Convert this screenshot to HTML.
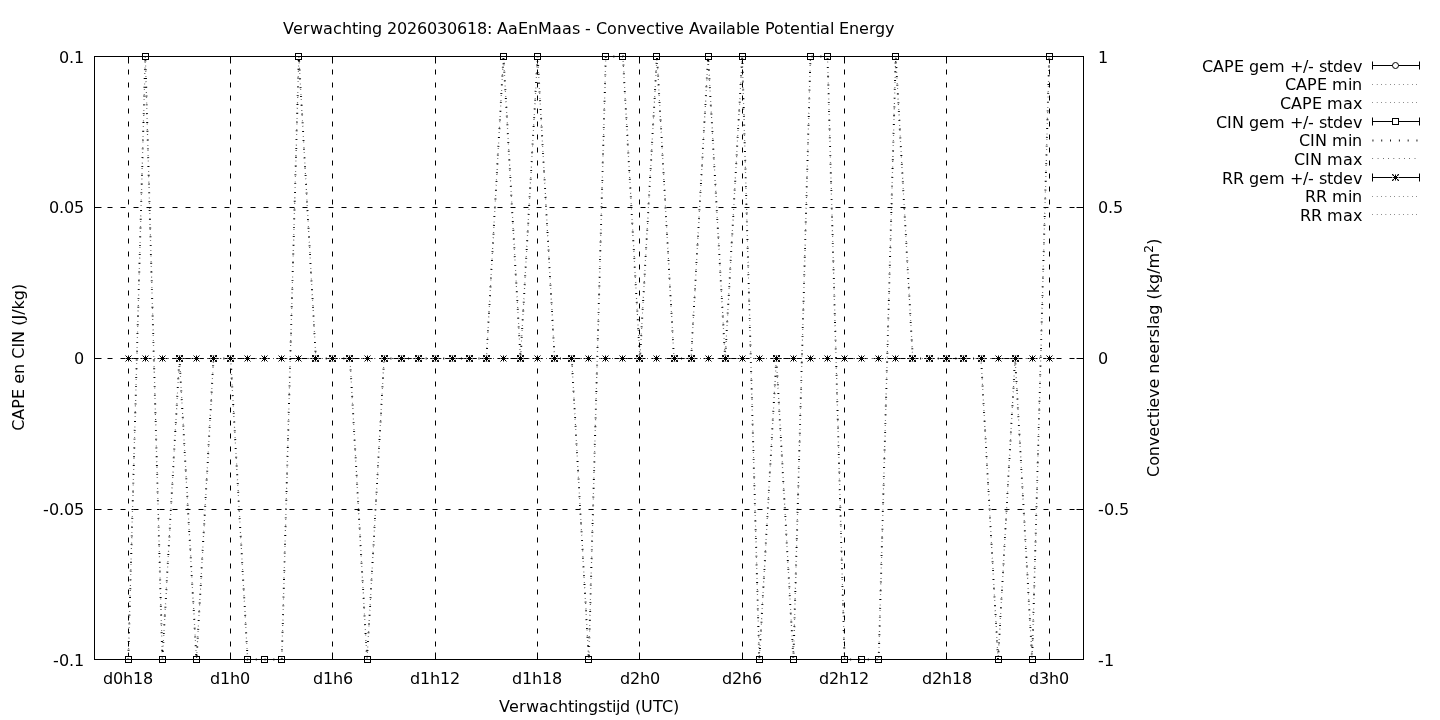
<!DOCTYPE html>
<html lang="nl"><head><meta charset="utf-8"><title>Verwachting 2026030618: AaEnMaas - Convective Available Potential Energy</title>
<style>html,body{margin:0;padding:0;background:#fff;overflow:hidden}svg{display:block;will-change:transform;-webkit-font-smoothing:antialiased}text{font-family:'DejaVu Sans','Liberation Sans',sans-serif;font-size:16px;fill:#000}</style></head><body>
<svg width="1440" height="720" viewBox="0 0 1440 720">
<rect x="0" y="0" width="1440" height="720" fill="#fff"/>
<g fill="none" stroke="#000" stroke-width="1" stroke-dasharray="5 8">
<path d="M128.5 659.5V56.5"/>
<path d="M230.5 659.5V56.5"/>
<path d="M332.5 659.5V56.5"/>
<path d="M435.5 659.5V56.5"/>
<path d="M537.5 659.5V56.5"/>
<path d="M639.5 659.5V56.5"/>
<path d="M742.5 659.5V56.5"/>
<path d="M844.5 659.5V56.5"/>
<path d="M946.5 659.5V56.5"/>
<path d="M1049.5 659.5V56.5"/>
<path d="M94.5 207.5H1083.5"/>
<path d="M94.5 358.5H1083.5"/>
<path d="M94.5 509.5H1083.5"/>
</g>
<path d="M128.5 659.5v-7M128.5 56.5v7M230.5 659.5v-7M230.5 56.5v7M332.5 659.5v-7M332.5 56.5v7M435.5 659.5v-7M435.5 56.5v7M537.5 659.5v-7M537.5 56.5v7M639.5 659.5v-7M639.5 56.5v7M742.5 659.5v-7M742.5 56.5v7M844.5 659.5v-7M844.5 56.5v7M946.5 659.5v-7M946.5 56.5v7M1049.5 659.5v-7M1049.5 56.5v7M94.5 207.5h7M1083.5 207.5h-7M94.5 358.5h7M1083.5 358.5h-7M94.5 509.5h7M1083.5 509.5h-7" fill="none" stroke="#000" stroke-width="1"/>
<path d="M128.28 358.50H1049.23" fill="none" stroke="#000" stroke-width="1.00" stroke-dasharray="0.450 3.950"/>
<g fill="none" stroke="#000" stroke-width="1">
<path d="M123.50 659.5h10.0"/><circle cx="128.50" cy="659.5" r="3.5" fill="#fff" stroke="none"/><path d="M125 656h7v7h-7zM126 657h5v5h-5z" fill="#000" fill-rule="evenodd" stroke="none"/>
<path d="M140.50 56.5h10.0"/><circle cx="145.50" cy="56.5" r="3.5" fill="#fff" stroke="none"/><path d="M142 53h7v7h-7zM143 54h5v5h-5z" fill="#000" fill-rule="evenodd" stroke="none"/>
<path d="M157.50 659.5h10.0"/><circle cx="162.50" cy="659.5" r="3.5" fill="#fff" stroke="none"/><path d="M159 656h7v7h-7zM160 657h5v5h-5z" fill="#000" fill-rule="evenodd" stroke="none"/>
<path d="M174.50 358.5h10.0"/><circle cx="179.50" cy="358.5" r="3.5" fill="#fff" stroke="none"/><path d="M176 355h7v7h-7zM177 356h5v5h-5z" fill="#000" fill-rule="evenodd" stroke="none"/>
<path d="M191.50 659.5h10.0"/><circle cx="196.50" cy="659.5" r="3.5" fill="#fff" stroke="none"/><path d="M193 656h7v7h-7zM194 657h5v5h-5z" fill="#000" fill-rule="evenodd" stroke="none"/>
<path d="M208.50 358.5h10.0"/><circle cx="213.50" cy="358.5" r="3.5" fill="#fff" stroke="none"/><path d="M210 355h7v7h-7zM211 356h5v5h-5z" fill="#000" fill-rule="evenodd" stroke="none"/>
<path d="M225.50 358.5h10.0"/><circle cx="230.50" cy="358.5" r="3.5" fill="#fff" stroke="none"/><path d="M227 355h7v7h-7zM228 356h5v5h-5z" fill="#000" fill-rule="evenodd" stroke="none"/>
<path d="M242.50 659.5h10.0"/><circle cx="247.50" cy="659.5" r="3.5" fill="#fff" stroke="none"/><path d="M244 656h7v7h-7zM245 657h5v5h-5z" fill="#000" fill-rule="evenodd" stroke="none"/>
<path d="M259.50 659.5h10.0"/><circle cx="264.50" cy="659.5" r="3.5" fill="#fff" stroke="none"/><path d="M261 656h7v7h-7zM262 657h5v5h-5z" fill="#000" fill-rule="evenodd" stroke="none"/>
<path d="M276.50 659.5h10.0"/><circle cx="281.50" cy="659.5" r="3.5" fill="#fff" stroke="none"/><path d="M278 656h7v7h-7zM279 657h5v5h-5z" fill="#000" fill-rule="evenodd" stroke="none"/>
<path d="M293.50 56.5h10.0"/><circle cx="298.50" cy="56.5" r="3.5" fill="#fff" stroke="none"/><path d="M295 53h7v7h-7zM296 54h5v5h-5z" fill="#000" fill-rule="evenodd" stroke="none"/>
<path d="M310.50 358.5h10.0"/><circle cx="315.50" cy="358.5" r="3.5" fill="#fff" stroke="none"/><path d="M312 355h7v7h-7zM313 356h5v5h-5z" fill="#000" fill-rule="evenodd" stroke="none"/>
<path d="M327.50 358.5h10.0"/><circle cx="332.50" cy="358.5" r="3.5" fill="#fff" stroke="none"/><path d="M329 355h7v7h-7zM330 356h5v5h-5z" fill="#000" fill-rule="evenodd" stroke="none"/>
<path d="M344.50 358.5h10.0"/><circle cx="349.50" cy="358.5" r="3.5" fill="#fff" stroke="none"/><path d="M346 355h7v7h-7zM347 356h5v5h-5z" fill="#000" fill-rule="evenodd" stroke="none"/>
<path d="M362.50 659.5h10.0"/><circle cx="367.50" cy="659.5" r="3.5" fill="#fff" stroke="none"/><path d="M364 656h7v7h-7zM365 657h5v5h-5z" fill="#000" fill-rule="evenodd" stroke="none"/>
<path d="M379.50 358.5h10.0"/><circle cx="384.50" cy="358.5" r="3.5" fill="#fff" stroke="none"/><path d="M381 355h7v7h-7zM382 356h5v5h-5z" fill="#000" fill-rule="evenodd" stroke="none"/>
<path d="M396.50 358.5h10.0"/><circle cx="401.50" cy="358.5" r="3.5" fill="#fff" stroke="none"/><path d="M398 355h7v7h-7zM399 356h5v5h-5z" fill="#000" fill-rule="evenodd" stroke="none"/>
<path d="M413.50 358.5h10.0"/><circle cx="418.50" cy="358.5" r="3.5" fill="#fff" stroke="none"/><path d="M415 355h7v7h-7zM416 356h5v5h-5z" fill="#000" fill-rule="evenodd" stroke="none"/>
<path d="M430.50 358.5h10.0"/><circle cx="435.50" cy="358.5" r="3.5" fill="#fff" stroke="none"/><path d="M432 355h7v7h-7zM433 356h5v5h-5z" fill="#000" fill-rule="evenodd" stroke="none"/>
<path d="M447.50 358.5h10.0"/><circle cx="452.50" cy="358.5" r="3.5" fill="#fff" stroke="none"/><path d="M449 355h7v7h-7zM450 356h5v5h-5z" fill="#000" fill-rule="evenodd" stroke="none"/>
<path d="M464.50 358.5h10.0"/><circle cx="469.50" cy="358.5" r="3.5" fill="#fff" stroke="none"/><path d="M466 355h7v7h-7zM467 356h5v5h-5z" fill="#000" fill-rule="evenodd" stroke="none"/>
<path d="M481.50 358.5h10.0"/><circle cx="486.50" cy="358.5" r="3.5" fill="#fff" stroke="none"/><path d="M483 355h7v7h-7zM484 356h5v5h-5z" fill="#000" fill-rule="evenodd" stroke="none"/>
<path d="M498.50 56.5h10.0"/><circle cx="503.50" cy="56.5" r="3.5" fill="#fff" stroke="none"/><path d="M500 53h7v7h-7zM501 54h5v5h-5z" fill="#000" fill-rule="evenodd" stroke="none"/>
<path d="M515.50 358.5h10.0"/><circle cx="520.50" cy="358.5" r="3.5" fill="#fff" stroke="none"/><path d="M517 355h7v7h-7zM518 356h5v5h-5z" fill="#000" fill-rule="evenodd" stroke="none"/>
<path d="M532.50 56.5h10.0"/><circle cx="537.50" cy="56.5" r="3.5" fill="#fff" stroke="none"/><path d="M534 53h7v7h-7zM535 54h5v5h-5z" fill="#000" fill-rule="evenodd" stroke="none"/>
<path d="M549.50 358.5h10.0"/><circle cx="554.50" cy="358.5" r="3.5" fill="#fff" stroke="none"/><path d="M551 355h7v7h-7zM552 356h5v5h-5z" fill="#000" fill-rule="evenodd" stroke="none"/>
<path d="M566.50 358.5h10.0"/><circle cx="571.50" cy="358.5" r="3.5" fill="#fff" stroke="none"/><path d="M568 355h7v7h-7zM569 356h5v5h-5z" fill="#000" fill-rule="evenodd" stroke="none"/>
<path d="M583.50 659.5h10.0"/><circle cx="588.50" cy="659.5" r="3.5" fill="#fff" stroke="none"/><path d="M585 656h7v7h-7zM586 657h5v5h-5z" fill="#000" fill-rule="evenodd" stroke="none"/>
<path d="M600.50 56.5h10.0"/><circle cx="605.50" cy="56.5" r="3.5" fill="#fff" stroke="none"/><path d="M602 53h7v7h-7zM603 54h5v5h-5z" fill="#000" fill-rule="evenodd" stroke="none"/>
<path d="M617.50 56.5h10.0"/><circle cx="622.50" cy="56.5" r="3.5" fill="#fff" stroke="none"/><path d="M619 53h7v7h-7zM620 54h5v5h-5z" fill="#000" fill-rule="evenodd" stroke="none"/>
<path d="M634.50 358.5h10.0"/><circle cx="639.50" cy="358.5" r="3.5" fill="#fff" stroke="none"/><path d="M636 355h7v7h-7zM637 356h5v5h-5z" fill="#000" fill-rule="evenodd" stroke="none"/>
<path d="M651.50 56.5h10.0"/><circle cx="656.50" cy="56.5" r="3.5" fill="#fff" stroke="none"/><path d="M653 53h7v7h-7zM654 54h5v5h-5z" fill="#000" fill-rule="evenodd" stroke="none"/>
<path d="M669.50 358.5h10.0"/><circle cx="674.50" cy="358.5" r="3.5" fill="#fff" stroke="none"/><path d="M671 355h7v7h-7zM672 356h5v5h-5z" fill="#000" fill-rule="evenodd" stroke="none"/>
<path d="M686.50 358.5h10.0"/><circle cx="691.50" cy="358.5" r="3.5" fill="#fff" stroke="none"/><path d="M688 355h7v7h-7zM689 356h5v5h-5z" fill="#000" fill-rule="evenodd" stroke="none"/>
<path d="M703.50 56.5h10.0"/><circle cx="708.50" cy="56.5" r="3.5" fill="#fff" stroke="none"/><path d="M705 53h7v7h-7zM706 54h5v5h-5z" fill="#000" fill-rule="evenodd" stroke="none"/>
<path d="M720.50 358.5h10.0"/><circle cx="725.50" cy="358.5" r="3.5" fill="#fff" stroke="none"/><path d="M722 355h7v7h-7zM723 356h5v5h-5z" fill="#000" fill-rule="evenodd" stroke="none"/>
<path d="M737.50 56.5h10.0"/><circle cx="742.50" cy="56.5" r="3.5" fill="#fff" stroke="none"/><path d="M739 53h7v7h-7zM740 54h5v5h-5z" fill="#000" fill-rule="evenodd" stroke="none"/>
<path d="M754.50 659.5h10.0"/><circle cx="759.50" cy="659.5" r="3.5" fill="#fff" stroke="none"/><path d="M756 656h7v7h-7zM757 657h5v5h-5z" fill="#000" fill-rule="evenodd" stroke="none"/>
<path d="M771.50 358.5h10.0"/><circle cx="776.50" cy="358.5" r="3.5" fill="#fff" stroke="none"/><path d="M773 355h7v7h-7zM774 356h5v5h-5z" fill="#000" fill-rule="evenodd" stroke="none"/>
<path d="M788.50 659.5h10.0"/><circle cx="793.50" cy="659.5" r="3.5" fill="#fff" stroke="none"/><path d="M790 656h7v7h-7zM791 657h5v5h-5z" fill="#000" fill-rule="evenodd" stroke="none"/>
<path d="M805.50 56.5h10.0"/><circle cx="810.50" cy="56.5" r="3.5" fill="#fff" stroke="none"/><path d="M807 53h7v7h-7zM808 54h5v5h-5z" fill="#000" fill-rule="evenodd" stroke="none"/>
<path d="M822.50 56.5h10.0"/><circle cx="827.50" cy="56.5" r="3.5" fill="#fff" stroke="none"/><path d="M824 53h7v7h-7zM825 54h5v5h-5z" fill="#000" fill-rule="evenodd" stroke="none"/>
<path d="M839.50 659.5h10.0"/><circle cx="844.50" cy="659.5" r="3.5" fill="#fff" stroke="none"/><path d="M841 656h7v7h-7zM842 657h5v5h-5z" fill="#000" fill-rule="evenodd" stroke="none"/>
<path d="M856.50 659.5h10.0"/><circle cx="861.50" cy="659.5" r="3.5" fill="#fff" stroke="none"/><path d="M858 656h7v7h-7zM859 657h5v5h-5z" fill="#000" fill-rule="evenodd" stroke="none"/>
<path d="M873.50 659.5h10.0"/><circle cx="878.50" cy="659.5" r="3.5" fill="#fff" stroke="none"/><path d="M875 656h7v7h-7zM876 657h5v5h-5z" fill="#000" fill-rule="evenodd" stroke="none"/>
<path d="M890.50 56.5h10.0"/><circle cx="895.50" cy="56.5" r="3.5" fill="#fff" stroke="none"/><path d="M892 53h7v7h-7zM893 54h5v5h-5z" fill="#000" fill-rule="evenodd" stroke="none"/>
<path d="M907.50 358.5h10.0"/><circle cx="912.50" cy="358.5" r="3.5" fill="#fff" stroke="none"/><path d="M909 355h7v7h-7zM910 356h5v5h-5z" fill="#000" fill-rule="evenodd" stroke="none"/>
<path d="M924.50 358.5h10.0"/><circle cx="929.50" cy="358.5" r="3.5" fill="#fff" stroke="none"/><path d="M926 355h7v7h-7zM927 356h5v5h-5z" fill="#000" fill-rule="evenodd" stroke="none"/>
<path d="M941.50 358.5h10.0"/><circle cx="946.50" cy="358.5" r="3.5" fill="#fff" stroke="none"/><path d="M943 355h7v7h-7zM944 356h5v5h-5z" fill="#000" fill-rule="evenodd" stroke="none"/>
<path d="M958.50 358.5h10.0"/><circle cx="963.50" cy="358.5" r="3.5" fill="#fff" stroke="none"/><path d="M960 355h7v7h-7zM961 356h5v5h-5z" fill="#000" fill-rule="evenodd" stroke="none"/>
<path d="M976.50 358.5h10.0"/><circle cx="981.50" cy="358.5" r="3.5" fill="#fff" stroke="none"/><path d="M978 355h7v7h-7zM979 356h5v5h-5z" fill="#000" fill-rule="evenodd" stroke="none"/>
<path d="M993.50 659.5h10.0"/><circle cx="998.50" cy="659.5" r="3.5" fill="#fff" stroke="none"/><path d="M995 656h7v7h-7zM996 657h5v5h-5z" fill="#000" fill-rule="evenodd" stroke="none"/>
<path d="M1010.50 358.5h10.0"/><circle cx="1015.50" cy="358.5" r="3.5" fill="#fff" stroke="none"/><path d="M1012 355h7v7h-7zM1013 356h5v5h-5z" fill="#000" fill-rule="evenodd" stroke="none"/>
<path d="M1027.50 659.5h10.0"/><circle cx="1032.50" cy="659.5" r="3.5" fill="#fff" stroke="none"/><path d="M1029 656h7v7h-7zM1030 657h5v5h-5z" fill="#000" fill-rule="evenodd" stroke="none"/>
<path d="M1044.50 56.5h10.0"/><circle cx="1049.50" cy="56.5" r="3.5" fill="#fff" stroke="none"/><path d="M1046 53h7v7h-7zM1047 54h5v5h-5z" fill="#000" fill-rule="evenodd" stroke="none"/>
</g>
<g fill="none" stroke="#000">
<polyline points="128.28,659.50 145.33,56.50 162.39,659.50 179.44,358.50 196.50,659.50 213.55,358.50 230.61,358.50 247.66,659.50 264.72,659.50 281.77,659.50 298.82,56.50 315.88,358.50 332.93,358.50 349.99,358.50 367.04,659.50 384.10,358.50 401.15,358.50 418.21,358.50 435.26,358.50 452.32,358.50 469.37,358.50 486.43,358.50 503.48,56.50 520.53,358.50 537.59,56.50 554.64,358.50 571.70,358.50 588.75,659.50 605.81,56.50 622.86,56.50 639.92,358.50 656.97,56.50 674.03,358.50 691.08,358.50 708.13,56.50 725.19,358.50 742.24,56.50 759.30,659.50 776.35,358.50 793.41,659.50 810.46,56.50 827.52,56.50 844.57,659.50 861.63,659.50 878.68,659.50 895.74,56.50 912.79,358.50 929.84,358.50 946.90,358.50 963.95,358.50 981.01,358.50 998.06,659.50 1015.12,358.50 1032.17,659.50 1049.23,56.50" stroke-width="2.00" stroke-dasharray="0.900 7.900"/>
<polyline points="128.28,659.50 145.33,56.50 162.39,659.50 179.44,358.50 196.50,659.50 213.55,358.50 230.61,358.50 247.66,659.50 264.72,659.50 281.77,659.50 298.82,56.50 315.88,358.50 332.93,358.50 349.99,358.50 367.04,659.50 384.10,358.50 401.15,358.50 418.21,358.50 435.26,358.50 452.32,358.50 469.37,358.50 486.43,358.50 503.48,56.50 520.53,358.50 537.59,56.50 554.64,358.50 571.70,358.50 588.75,659.50 605.81,56.50 622.86,56.50 639.92,358.50 656.97,56.50 674.03,358.50 691.08,358.50 708.13,56.50 725.19,358.50 742.24,56.50 759.30,659.50 776.35,358.50 793.41,659.50 810.46,56.50 827.52,56.50 844.57,659.50 861.63,659.50 878.68,659.50 895.74,56.50 912.79,358.50 929.84,358.50 946.90,358.50 963.95,358.50 981.01,358.50 998.06,659.50 1015.12,358.50 1032.17,659.50 1049.23,56.50" stroke-width="1.20" stroke-dasharray="0.540 4.740"/>
</g>
<g fill="none" stroke="#000" stroke-width="1">
<path d="M123.50 358.5h10.0"/><circle cx="128.50" cy="358.5" r="3.50" fill="#fff" stroke="none"/>
<path d="M125.50 358.50h6M128.50 355.50v6M125.50 355.50l6 6M125.50 361.50l6 -6"/>
<path d="M140.50 358.5h10.0"/><circle cx="145.50" cy="358.5" r="3.50" fill="#fff" stroke="none"/>
<path d="M142.50 358.50h6M145.50 355.50v6M142.50 355.50l6 6M142.50 361.50l6 -6"/>
<path d="M157.50 358.5h10.0"/><circle cx="162.50" cy="358.5" r="3.50" fill="#fff" stroke="none"/>
<path d="M159.50 358.50h6M162.50 355.50v6M159.50 355.50l6 6M159.50 361.50l6 -6"/>
<path d="M174.50 358.5h10.0"/><circle cx="179.50" cy="358.5" r="3.50" fill="#fff" stroke="none"/>
<path d="M176 355H177.63V356H177V356.63H176ZM176 362H177.63V361H177V360.37H176ZM183 355H181.37V356H182V356.63H183ZM183 362H181.37V361H182V360.37H183Z" fill="#000" stroke="none"/>
<path d="M176.50 358.50h6M179.50 355.50v6M176.50 355.50l6 6M176.50 361.50l6 -6"/>
<path d="M191.50 358.5h10.0"/><circle cx="196.50" cy="358.5" r="3.50" fill="#fff" stroke="none"/>
<path d="M193.50 358.50h6M196.50 355.50v6M193.50 355.50l6 6M193.50 361.50l6 -6"/>
<path d="M208.50 358.5h10.0"/><circle cx="213.50" cy="358.5" r="3.50" fill="#fff" stroke="none"/>
<path d="M210 355H211.63V356H211V356.63H210ZM210 362H211.63V361H211V360.37H210ZM217 355H215.37V356H216V356.63H217ZM217 362H215.37V361H216V360.37H217Z" fill="#000" stroke="none"/>
<path d="M210.50 358.50h6M213.50 355.50v6M210.50 355.50l6 6M210.50 361.50l6 -6"/>
<path d="M225.50 358.5h10.0"/><circle cx="230.50" cy="358.5" r="3.50" fill="#fff" stroke="none"/>
<path d="M227 355H228.63V356H228V356.63H227ZM227 362H228.63V361H228V360.37H227ZM234 355H232.37V356H233V356.63H234ZM234 362H232.37V361H233V360.37H234Z" fill="#000" stroke="none"/>
<path d="M227.50 358.50h6M230.50 355.50v6M227.50 355.50l6 6M227.50 361.50l6 -6"/>
<path d="M242.50 358.5h10.0"/><circle cx="247.50" cy="358.5" r="3.50" fill="#fff" stroke="none"/>
<path d="M244.50 358.50h6M247.50 355.50v6M244.50 355.50l6 6M244.50 361.50l6 -6"/>
<path d="M259.50 358.5h10.0"/><circle cx="264.50" cy="358.5" r="3.50" fill="#fff" stroke="none"/>
<path d="M261.50 358.50h6M264.50 355.50v6M261.50 355.50l6 6M261.50 361.50l6 -6"/>
<path d="M276.50 358.5h10.0"/><circle cx="281.50" cy="358.5" r="3.50" fill="#fff" stroke="none"/>
<path d="M278.50 358.50h6M281.50 355.50v6M278.50 355.50l6 6M278.50 361.50l6 -6"/>
<path d="M293.50 358.5h10.0"/><circle cx="298.50" cy="358.5" r="3.50" fill="#fff" stroke="none"/>
<path d="M295.50 358.50h6M298.50 355.50v6M295.50 355.50l6 6M295.50 361.50l6 -6"/>
<path d="M310.50 358.5h10.0"/><circle cx="315.50" cy="358.5" r="3.50" fill="#fff" stroke="none"/>
<path d="M312 355H313.63V356H313V356.63H312ZM312 362H313.63V361H313V360.37H312ZM319 355H317.37V356H318V356.63H319ZM319 362H317.37V361H318V360.37H319Z" fill="#000" stroke="none"/>
<path d="M312.50 358.50h6M315.50 355.50v6M312.50 355.50l6 6M312.50 361.50l6 -6"/>
<path d="M327.50 358.5h10.0"/><circle cx="332.50" cy="358.5" r="3.50" fill="#fff" stroke="none"/>
<path d="M329 355H330.63V356H330V356.63H329ZM329 362H330.63V361H330V360.37H329ZM336 355H334.37V356H335V356.63H336ZM336 362H334.37V361H335V360.37H336Z" fill="#000" stroke="none"/>
<path d="M329.50 358.50h6M332.50 355.50v6M329.50 355.50l6 6M329.50 361.50l6 -6"/>
<path d="M344.50 358.5h10.0"/><circle cx="349.50" cy="358.5" r="3.50" fill="#fff" stroke="none"/>
<path d="M346 355H347.63V356H347V356.63H346ZM346 362H347.63V361H347V360.37H346ZM353 355H351.37V356H352V356.63H353ZM353 362H351.37V361H352V360.37H353Z" fill="#000" stroke="none"/>
<path d="M346.50 358.50h6M349.50 355.50v6M346.50 355.50l6 6M346.50 361.50l6 -6"/>
<path d="M362.50 358.5h10.0"/><circle cx="367.50" cy="358.5" r="3.50" fill="#fff" stroke="none"/>
<path d="M364.50 358.50h6M367.50 355.50v6M364.50 355.50l6 6M364.50 361.50l6 -6"/>
<path d="M379.50 358.5h10.0"/><circle cx="384.50" cy="358.5" r="3.50" fill="#fff" stroke="none"/>
<path d="M381 355H382.63V356H382V356.63H381ZM381 362H382.63V361H382V360.37H381ZM388 355H386.37V356H387V356.63H388ZM388 362H386.37V361H387V360.37H388Z" fill="#000" stroke="none"/>
<path d="M381.50 358.50h6M384.50 355.50v6M381.50 355.50l6 6M381.50 361.50l6 -6"/>
<path d="M396.50 358.5h10.0"/><circle cx="401.50" cy="358.5" r="3.50" fill="#fff" stroke="none"/>
<path d="M398 355H399.63V356H399V356.63H398ZM398 362H399.63V361H399V360.37H398ZM405 355H403.37V356H404V356.63H405ZM405 362H403.37V361H404V360.37H405Z" fill="#000" stroke="none"/>
<path d="M398.50 358.50h6M401.50 355.50v6M398.50 355.50l6 6M398.50 361.50l6 -6"/>
<path d="M413.50 358.5h10.0"/><circle cx="418.50" cy="358.5" r="3.50" fill="#fff" stroke="none"/>
<path d="M415 355H416.63V356H416V356.63H415ZM415 362H416.63V361H416V360.37H415ZM422 355H420.37V356H421V356.63H422ZM422 362H420.37V361H421V360.37H422Z" fill="#000" stroke="none"/>
<path d="M415.50 358.50h6M418.50 355.50v6M415.50 355.50l6 6M415.50 361.50l6 -6"/>
<path d="M430.50 358.5h10.0"/><circle cx="435.50" cy="358.5" r="3.50" fill="#fff" stroke="none"/>
<path d="M432 355H433.63V356H433V356.63H432ZM432 362H433.63V361H433V360.37H432ZM439 355H437.37V356H438V356.63H439ZM439 362H437.37V361H438V360.37H439Z" fill="#000" stroke="none"/>
<path d="M432.50 358.50h6M435.50 355.50v6M432.50 355.50l6 6M432.50 361.50l6 -6"/>
<path d="M447.50 358.5h10.0"/><circle cx="452.50" cy="358.5" r="3.50" fill="#fff" stroke="none"/>
<path d="M449 355H450.63V356H450V356.63H449ZM449 362H450.63V361H450V360.37H449ZM456 355H454.37V356H455V356.63H456ZM456 362H454.37V361H455V360.37H456Z" fill="#000" stroke="none"/>
<path d="M449.50 358.50h6M452.50 355.50v6M449.50 355.50l6 6M449.50 361.50l6 -6"/>
<path d="M464.50 358.5h10.0"/><circle cx="469.50" cy="358.5" r="3.50" fill="#fff" stroke="none"/>
<path d="M466 355H467.63V356H467V356.63H466ZM466 362H467.63V361H467V360.37H466ZM473 355H471.37V356H472V356.63H473ZM473 362H471.37V361H472V360.37H473Z" fill="#000" stroke="none"/>
<path d="M466.50 358.50h6M469.50 355.50v6M466.50 355.50l6 6M466.50 361.50l6 -6"/>
<path d="M481.50 358.5h10.0"/><circle cx="486.50" cy="358.5" r="3.50" fill="#fff" stroke="none"/>
<path d="M483 355H484.63V356H484V356.63H483ZM483 362H484.63V361H484V360.37H483ZM490 355H488.37V356H489V356.63H490ZM490 362H488.37V361H489V360.37H490Z" fill="#000" stroke="none"/>
<path d="M483.50 358.50h6M486.50 355.50v6M483.50 355.50l6 6M483.50 361.50l6 -6"/>
<path d="M498.50 358.5h10.0"/><circle cx="503.50" cy="358.5" r="3.50" fill="#fff" stroke="none"/>
<path d="M500.50 358.50h6M503.50 355.50v6M500.50 355.50l6 6M500.50 361.50l6 -6"/>
<path d="M515.50 358.5h10.0"/><circle cx="520.50" cy="358.5" r="3.50" fill="#fff" stroke="none"/>
<path d="M517 355H518.63V356H518V356.63H517ZM517 362H518.63V361H518V360.37H517ZM524 355H522.37V356H523V356.63H524ZM524 362H522.37V361H523V360.37H524Z" fill="#000" stroke="none"/>
<path d="M517.50 358.50h6M520.50 355.50v6M517.50 355.50l6 6M517.50 361.50l6 -6"/>
<path d="M532.50 358.5h10.0"/><circle cx="537.50" cy="358.5" r="3.50" fill="#fff" stroke="none"/>
<path d="M534.50 358.50h6M537.50 355.50v6M534.50 355.50l6 6M534.50 361.50l6 -6"/>
<path d="M549.50 358.5h10.0"/><circle cx="554.50" cy="358.5" r="3.50" fill="#fff" stroke="none"/>
<path d="M551 355H552.63V356H552V356.63H551ZM551 362H552.63V361H552V360.37H551ZM558 355H556.37V356H557V356.63H558ZM558 362H556.37V361H557V360.37H558Z" fill="#000" stroke="none"/>
<path d="M551.50 358.50h6M554.50 355.50v6M551.50 355.50l6 6M551.50 361.50l6 -6"/>
<path d="M566.50 358.5h10.0"/><circle cx="571.50" cy="358.5" r="3.50" fill="#fff" stroke="none"/>
<path d="M568 355H569.63V356H569V356.63H568ZM568 362H569.63V361H569V360.37H568ZM575 355H573.37V356H574V356.63H575ZM575 362H573.37V361H574V360.37H575Z" fill="#000" stroke="none"/>
<path d="M568.50 358.50h6M571.50 355.50v6M568.50 355.50l6 6M568.50 361.50l6 -6"/>
<path d="M583.50 358.5h10.0"/><circle cx="588.50" cy="358.5" r="3.50" fill="#fff" stroke="none"/>
<path d="M585.50 358.50h6M588.50 355.50v6M585.50 355.50l6 6M585.50 361.50l6 -6"/>
<path d="M600.50 358.5h10.0"/><circle cx="605.50" cy="358.5" r="3.50" fill="#fff" stroke="none"/>
<path d="M602.50 358.50h6M605.50 355.50v6M602.50 355.50l6 6M602.50 361.50l6 -6"/>
<path d="M617.50 358.5h10.0"/><circle cx="622.50" cy="358.5" r="3.50" fill="#fff" stroke="none"/>
<path d="M619.50 358.50h6M622.50 355.50v6M619.50 355.50l6 6M619.50 361.50l6 -6"/>
<path d="M634.50 358.5h10.0"/><circle cx="639.50" cy="358.5" r="3.50" fill="#fff" stroke="none"/>
<path d="M636 355H637.63V356H637V356.63H636ZM636 362H637.63V361H637V360.37H636ZM643 355H641.37V356H642V356.63H643ZM643 362H641.37V361H642V360.37H643Z" fill="#000" stroke="none"/>
<path d="M636.50 358.50h6M639.50 355.50v6M636.50 355.50l6 6M636.50 361.50l6 -6"/>
<path d="M651.50 358.5h10.0"/><circle cx="656.50" cy="358.5" r="3.50" fill="#fff" stroke="none"/>
<path d="M653.50 358.50h6M656.50 355.50v6M653.50 355.50l6 6M653.50 361.50l6 -6"/>
<path d="M669.50 358.5h10.0"/><circle cx="674.50" cy="358.5" r="3.50" fill="#fff" stroke="none"/>
<path d="M671 355H672.63V356H672V356.63H671ZM671 362H672.63V361H672V360.37H671ZM678 355H676.37V356H677V356.63H678ZM678 362H676.37V361H677V360.37H678Z" fill="#000" stroke="none"/>
<path d="M671.50 358.50h6M674.50 355.50v6M671.50 355.50l6 6M671.50 361.50l6 -6"/>
<path d="M686.50 358.5h10.0"/><circle cx="691.50" cy="358.5" r="3.50" fill="#fff" stroke="none"/>
<path d="M688 355H689.63V356H689V356.63H688ZM688 362H689.63V361H689V360.37H688ZM695 355H693.37V356H694V356.63H695ZM695 362H693.37V361H694V360.37H695Z" fill="#000" stroke="none"/>
<path d="M688.50 358.50h6M691.50 355.50v6M688.50 355.50l6 6M688.50 361.50l6 -6"/>
<path d="M703.50 358.5h10.0"/><circle cx="708.50" cy="358.5" r="3.50" fill="#fff" stroke="none"/>
<path d="M705.50 358.50h6M708.50 355.50v6M705.50 355.50l6 6M705.50 361.50l6 -6"/>
<path d="M720.50 358.5h10.0"/><circle cx="725.50" cy="358.5" r="3.50" fill="#fff" stroke="none"/>
<path d="M722 355H723.63V356H723V356.63H722ZM722 362H723.63V361H723V360.37H722ZM729 355H727.37V356H728V356.63H729ZM729 362H727.37V361H728V360.37H729Z" fill="#000" stroke="none"/>
<path d="M722.50 358.50h6M725.50 355.50v6M722.50 355.50l6 6M722.50 361.50l6 -6"/>
<path d="M737.50 358.5h10.0"/><circle cx="742.50" cy="358.5" r="3.50" fill="#fff" stroke="none"/>
<path d="M739.50 358.50h6M742.50 355.50v6M739.50 355.50l6 6M739.50 361.50l6 -6"/>
<path d="M754.50 358.5h10.0"/><circle cx="759.50" cy="358.5" r="3.50" fill="#fff" stroke="none"/>
<path d="M756.50 358.50h6M759.50 355.50v6M756.50 355.50l6 6M756.50 361.50l6 -6"/>
<path d="M771.50 358.5h10.0"/><circle cx="776.50" cy="358.5" r="3.50" fill="#fff" stroke="none"/>
<path d="M773 355H774.63V356H774V356.63H773ZM773 362H774.63V361H774V360.37H773ZM780 355H778.37V356H779V356.63H780ZM780 362H778.37V361H779V360.37H780Z" fill="#000" stroke="none"/>
<path d="M773.50 358.50h6M776.50 355.50v6M773.50 355.50l6 6M773.50 361.50l6 -6"/>
<path d="M788.50 358.5h10.0"/><circle cx="793.50" cy="358.5" r="3.50" fill="#fff" stroke="none"/>
<path d="M790.50 358.50h6M793.50 355.50v6M790.50 355.50l6 6M790.50 361.50l6 -6"/>
<path d="M805.50 358.5h10.0"/><circle cx="810.50" cy="358.5" r="3.50" fill="#fff" stroke="none"/>
<path d="M807.50 358.50h6M810.50 355.50v6M807.50 355.50l6 6M807.50 361.50l6 -6"/>
<path d="M822.50 358.5h10.0"/><circle cx="827.50" cy="358.5" r="3.50" fill="#fff" stroke="none"/>
<path d="M824.50 358.50h6M827.50 355.50v6M824.50 355.50l6 6M824.50 361.50l6 -6"/>
<path d="M839.50 358.5h10.0"/><circle cx="844.50" cy="358.5" r="3.50" fill="#fff" stroke="none"/>
<path d="M841.50 358.50h6M844.50 355.50v6M841.50 355.50l6 6M841.50 361.50l6 -6"/>
<path d="M856.50 358.5h10.0"/><circle cx="861.50" cy="358.5" r="3.50" fill="#fff" stroke="none"/>
<path d="M858.50 358.50h6M861.50 355.50v6M858.50 355.50l6 6M858.50 361.50l6 -6"/>
<path d="M873.50 358.5h10.0"/><circle cx="878.50" cy="358.5" r="3.50" fill="#fff" stroke="none"/>
<path d="M875.50 358.50h6M878.50 355.50v6M875.50 355.50l6 6M875.50 361.50l6 -6"/>
<path d="M890.50 358.5h10.0"/><circle cx="895.50" cy="358.5" r="3.50" fill="#fff" stroke="none"/>
<path d="M892.50 358.50h6M895.50 355.50v6M892.50 355.50l6 6M892.50 361.50l6 -6"/>
<path d="M907.50 358.5h10.0"/><circle cx="912.50" cy="358.5" r="3.50" fill="#fff" stroke="none"/>
<path d="M909 355H910.63V356H910V356.63H909ZM909 362H910.63V361H910V360.37H909ZM916 355H914.37V356H915V356.63H916ZM916 362H914.37V361H915V360.37H916Z" fill="#000" stroke="none"/>
<path d="M909.50 358.50h6M912.50 355.50v6M909.50 355.50l6 6M909.50 361.50l6 -6"/>
<path d="M924.50 358.5h10.0"/><circle cx="929.50" cy="358.5" r="3.50" fill="#fff" stroke="none"/>
<path d="M926 355H927.63V356H927V356.63H926ZM926 362H927.63V361H927V360.37H926ZM933 355H931.37V356H932V356.63H933ZM933 362H931.37V361H932V360.37H933Z" fill="#000" stroke="none"/>
<path d="M926.50 358.50h6M929.50 355.50v6M926.50 355.50l6 6M926.50 361.50l6 -6"/>
<path d="M941.50 358.5h10.0"/><circle cx="946.50" cy="358.5" r="3.50" fill="#fff" stroke="none"/>
<path d="M943 355H944.63V356H944V356.63H943ZM943 362H944.63V361H944V360.37H943ZM950 355H948.37V356H949V356.63H950ZM950 362H948.37V361H949V360.37H950Z" fill="#000" stroke="none"/>
<path d="M943.50 358.50h6M946.50 355.50v6M943.50 355.50l6 6M943.50 361.50l6 -6"/>
<path d="M958.50 358.5h10.0"/><circle cx="963.50" cy="358.5" r="3.50" fill="#fff" stroke="none"/>
<path d="M960 355H961.63V356H961V356.63H960ZM960 362H961.63V361H961V360.37H960ZM967 355H965.37V356H966V356.63H967ZM967 362H965.37V361H966V360.37H967Z" fill="#000" stroke="none"/>
<path d="M960.50 358.50h6M963.50 355.50v6M960.50 355.50l6 6M960.50 361.50l6 -6"/>
<path d="M976.50 358.5h10.0"/><circle cx="981.50" cy="358.5" r="3.50" fill="#fff" stroke="none"/>
<path d="M978 355H979.63V356H979V356.63H978ZM978 362H979.63V361H979V360.37H978ZM985 355H983.37V356H984V356.63H985ZM985 362H983.37V361H984V360.37H985Z" fill="#000" stroke="none"/>
<path d="M978.50 358.50h6M981.50 355.50v6M978.50 355.50l6 6M978.50 361.50l6 -6"/>
<path d="M993.50 358.5h10.0"/><circle cx="998.50" cy="358.5" r="3.50" fill="#fff" stroke="none"/>
<path d="M995.50 358.50h6M998.50 355.50v6M995.50 355.50l6 6M995.50 361.50l6 -6"/>
<path d="M1010.50 358.5h10.0"/><circle cx="1015.50" cy="358.5" r="3.50" fill="#fff" stroke="none"/>
<path d="M1012 355H1013.63V356H1013V356.63H1012ZM1012 362H1013.63V361H1013V360.37H1012ZM1019 355H1017.37V356H1018V356.63H1019ZM1019 362H1017.37V361H1018V360.37H1019Z" fill="#000" stroke="none"/>
<path d="M1012.50 358.50h6M1015.50 355.50v6M1012.50 355.50l6 6M1012.50 361.50l6 -6"/>
<path d="M1027.50 358.5h10.0"/><circle cx="1032.50" cy="358.5" r="3.50" fill="#fff" stroke="none"/>
<path d="M1029.50 358.50h6M1032.50 355.50v6M1029.50 355.50l6 6M1029.50 361.50l6 -6"/>
<path d="M1044.50 358.5h10.0"/><circle cx="1049.50" cy="358.5" r="3.50" fill="#fff" stroke="none"/>
<path d="M1046.50 358.50h6M1049.50 355.50v6M1046.50 355.50l6 6M1046.50 361.50l6 -6"/>
</g>
<path d="M128.28 358.50H1049.23" fill="none" stroke="#000" stroke-width="1.00" stroke-dasharray="0.450 3.950"/>
<path d="M94 56H1084V660H94ZM95 57H1083V659H95Z" fill="#000" fill-rule="evenodd" stroke="none"/>
<text x="283 293 303 310 323 333 342 352 358 362 372 382 387 397 407 417 427 437 447 457 467 477 487 492 497 508 518 528 538 552 562 572 580 585 591 596 607 617 627 636 646 655 661 665 674 684 689 699 708 718 722 726 736 746 750 760 765 774 784 790 800 810 816 820 830 834 839 849 859 869 875 885" y="34">Verwachting 2026030618: AaEnMaas - Convective Available Potential Energy</text>
<text x="59 69 74" y="63">0.1</text>
<text x="49 59 64 74" y="213">0.05</text>
<text x="74" y="364">0</text>
<text x="43 49 59 64 74" y="515">-0.05</text>
<text x="53 59 69 74" y="666">-0.1</text>
<text x="1098" y="63">1</text>
<text x="1098 1108 1113" y="213">0.5</text>
<text x="1098" y="364">0</text>
<text x="1098 1104 1114 1119" y="515">-0.5</text>
<text x="1098 1104" y="666">-1</text>
<text x="103 113 123 133 143" y="684">d0h18</text>
<text x="210 220 230 240" y="684">d1h0</text>
<text x="313 323 333 343" y="684">d1h6</text>
<text x="410 420 430 440 450" y="684">d1h12</text>
<text x="512 522 532 542 552" y="684">d1h18</text>
<text x="620 630 640 650" y="684">d2h0</text>
<text x="722 732 742 752" y="684">d2h6</text>
<text x="819 829 839 849 859" y="684">d2h12</text>
<text x="922 932 942 952 962" y="684">d2h18</text>
<text x="1029 1039 1049 1059" y="684">d3h0</text>
<text x="499 509 519 526 539 549 558 568 574 578 588 598 606 612 616 620 630 635 641 653 662 673" y="712">Verwachtingstijd (UTC)</text>
<text transform="translate(23.5 357.3) rotate(-90)" text-anchor="middle">CAPE en CIN (J/kg)</text>
<text transform="translate(1159 357.7) rotate(-90)" text-anchor="middle"><tspan letter-spacing="-0.085">Convectieve </tspan>neerslag (kg/m<tspan font-size="12.8" dy="-6.3">2</tspan><tspan dy="6.3">)</tspan></text>
<text x="1202 1213 1224 1234 1244 1249 1259 1269 1285 1290 1303 1308 1314 1319 1327 1333 1343 1353" y="72">CAPE gem +/- stdev</text>
<g fill="none" stroke="#000" stroke-width="1">
<path d="M1372.5 61.5v8M1419.5 61.5v8"/>
<path d="M1372.5 65.5H1392.5M1398.5 65.5H1419.5"/>
<circle cx="1395.5" cy="65.5" r="3"/>
</g>
<text x="1285 1296 1307 1317 1327 1332 1348 1352" y="90">CAPE min</text>
<path d="M1372.5 84.50H1419.5" fill="none" stroke="#000" stroke-width="1.00" stroke-dasharray="0.450 3.950"/>
<text x="1280 1291 1302 1312 1322 1327 1343 1353" y="109">CAPE max</text>
<path d="M1372.5 102.50H1419.5" fill="none" stroke="#000" stroke-width="1.00" stroke-dasharray="0.450 3.950"/>
<text x="1216 1227 1232 1244 1249 1259 1269 1285 1290 1303 1308 1314 1319 1327 1333 1343 1353" y="128">CIN gem +/- stdev</text>
<g fill="none" stroke="#000" stroke-width="1">
<path d="M1372.5 117.5v8M1419.5 117.5v8"/>
<path d="M1372.5 121.5H1392.5M1398.5 121.5H1419.5"/>
<path d="M1392 118h7v7h-7zM1393 119h5v5h-5z" fill="#000" fill-rule="evenodd" stroke="none"/>
</g>
<text x="1299 1310 1315 1327 1332 1348 1352" y="146">CIN min</text>
<path d="M1372.5 140.50H1419.5" fill="none" stroke="#000" stroke-width="2.00" stroke-dasharray="0.900 7.900"/>
<text x="1294 1305 1310 1322 1327 1343 1353" y="165">CIN max</text>
<path d="M1372.5 158.50H1419.5" fill="none" stroke="#000" stroke-width="1.20" stroke-dasharray="0.540 4.740"/>
<text x="1222 1233 1244 1249 1259 1269 1285 1290 1303 1308 1314 1319 1327 1333 1343 1353" y="184">RR gem +/- stdev</text>
<g fill="none" stroke="#000" stroke-width="1">
<path d="M1372.5 173.5v8M1419.5 173.5v8"/>
<path d="M1372.5 177.5H1392.0M1399.0 177.5H1419.5"/>
<path d="M1392.5 177.5h6M1395.5 174.5v6M1392.5 174.5l6 6M1392.5 180.5l6 -6"/>
<path d="M1393.40 175.40L1392.60 174.60M1393.40 179.60L1392.60 180.40M1397.60 175.40L1398.40 174.60M1397.60 179.60L1398.40 180.40" stroke-width="1.3" stroke-linecap="round"/>
</g>
<text x="1305 1316 1327 1332 1348 1352" y="202">RR min</text>
<path d="M1372.5 196.50H1419.5" fill="none" stroke="#000" stroke-width="1.00" stroke-dasharray="0.450 3.950"/>
<text x="1300 1311 1322 1327 1343 1353" y="221">RR max</text>
<path d="M1372.5 214.50H1419.5" fill="none" stroke="#000" stroke-width="1.00" stroke-dasharray="0.450 3.950"/>
</svg></body></html>
